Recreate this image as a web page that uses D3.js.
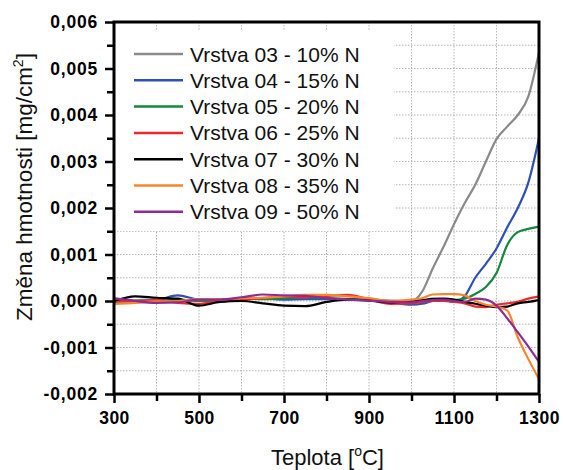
<!DOCTYPE html>
<html>
<head>
<meta charset="utf-8">
<script src="https://cdn.jsdelivr.net/npm/d3@7"></script>
<style>
  body { margin: 0; background: #fff; }
  text { font-family: "Liberation Sans", Arial, sans-serif; }
</style>
</head>
<body>
<svg width="563" height="470"></svg>
<script>
// temperatures [°C]
const temps = [300, 350, 400, 450, 500, 550, 600, 650, 700, 750, 800, 850, 900, 950, 1000,
  1025, 1050, 1075, 1100, 1125, 1150, 1175, 1200, 1225, 1250, 1275, 1300];

// mass change [mg/cm2]
const v03 = [0, 0.00002, 0.00003, 0.00002, 0.00001, 0.00003, 0.00005, 0.00006, 0.00005, 0.00006, 0.00005, 0.00004, 0.00003, 0.00001, 0,
  0.0002, 0.0007, 0.00116, 0.00165, 0.0021, 0.0025, 0.003, 0.00348, 0.00375, 0.004, 0.0044, 0.00535];
const v04 = [-0.00002, 0, 0.00002, 0.00012, 0.00003, 0.00002, 0.00004, 0.00005, 0.00003, 0.00004, 0.00004, 0.00004, 0.00003, -0.00002, -0.00008,
  -0.00006, 0, 0.00002, -0.00002, 0.0001, 0.0005, 0.0008, 0.00113, 0.00158, 0.002, 0.00255, 0.0035];
const v05 = [0, -0.00002, -0.00003, 0.00003, 0, -0.00002, 0.00005, 0.00004, 0.00006, 0.00008, 0.00006, 0.00004, 0.00002, -0.00001, -0.00002,
  0, 0.00005, 0.00004, 0.00002, 0.00005, 0.00015, 0.0003, 0.0006, 0.0012, 0.00148, 0.00155, 0.0016];
const v06 = [0, -0.00001, 0.00002, -0.00004, -0.00006, 0, 0.00003, 0.00006, 0.0001, 0.00008, 0.00011, 0.00013, 0.00004, -0.00006, -0.00005,
  -0.00002, 0, 0, -0.00002, -0.00005, -0.00012, -0.00013, -0.00008, -0.00005, -0.00002, 0.00005, 0.0001];
const v07 = [0, 0.0001, 0.00007, 0.00005, -0.0001, -0.00002, 0, -0.00005, -0.0001, -0.00011, -0.00002, 0.00003, 0.00001, -0.00003, 0,
  0.00002, 0.00004, 0.00005, 0.00003, -0.00002, -0.00006, -0.0001, -0.00013, -0.00012, -0.00005, -0.00002, 0.00002];
const v08 = [-0.00006, -0.00004, -0.00001, 0, 0.00004, 0.00004, 0.00006, 0.00007, 0.0001, 0.00013, 0.00013, 0.0001, 0.00006, 0, 0.00003,
  0.00006, 0.00014, 0.00015, 0.00015, 0.00012, 0, -0.00008, -0.00012, -0.0002, -0.00078, -0.00125, -0.00168];
const v09 = [0.00006, 0, -0.00004, -0.00003, 0.00003, 0.00003, 0.00008, 0.00014, 0.00012, 0.00011, 0.00006, 0.00003, 0.00001, -0.00002, -0.00003,
  0, 0.00002, 0.00003, 0, -0.00002, 0.00005, 0.00003, -0.0001, -0.00037, -0.00067, -0.00098, -0.00131];

const names = ['Vrstva 03 - 10% N', 'Vrstva 04 - 15% N', 'Vrstva 05 - 20% N', 'Vrstva 06 - 25% N',
  'Vrstva 07 - 30% N', 'Vrstva 08 - 35% N', 'Vrstva 09 - 50% N'];
const values = [v03, v04, v05, v06, v07, v08, v09];
const colors = ['#8a8a8a', '#2c50b4', '#16883c', '#f0282d', '#000000', '#f7862b', '#8e2c96'];

const xTicks = [300, 500, 700, 900, 1100, 1300];
const yTicks = [-0.002, -0.001, 0, 0.001, 0.002, 0.003, 0.004, 0.005, 0.006];

const svg = d3.select('svg');
const MARGIN = { TOP: 22, RIGHT: 24, BOTTOM: 76, LEFT: 114 };
const WIDTH = +svg.attr('width') - MARGIN.LEFT - MARGIN.RIGHT;
const HEIGHT = +svg.attr('height') - MARGIN.TOP - MARGIN.BOTTOM;

const g = svg.append('g').attr('transform', `translate(${MARGIN.LEFT}, ${MARGIN.TOP})`);

const x = d3.scaleLinear().domain([300, 1300]).range([0, WIDTH]);
const y = d3.scaleLinear().domain([-0.002, 0.006]).range([HEIGHT, 0]);

const fmt = d3.formatLocale({ decimal: ',', thousands: ' ', grouping: [3], currency: ['', ''], minus: '-' }).format('.3f');

// grid
const grid = g.append('g').attr('stroke', '#b4b4b4').attr('stroke-width', 1).attr('stroke-dasharray', '1.5,1.5');
grid.selectAll('line.v').data(d3.range(400, 1300, 100)).join('line')
  .attr('x1', d => x(d)).attr('x2', d => x(d)).attr('y1', 0).attr('y2', HEIGHT);
grid.selectAll('line.h').data(d3.range(-0.0015, 0.006, 0.0005)).join('line')
  .attr('x1', 0).attr('x2', WIDTH).attr('y1', d => y(d)).attr('y2', d => y(d));

// legend background covers grid
g.append('rect').attr('x', 1).attr('y', 8).attr('width', 279).attr('height', 201).attr('fill', '#fff');

// series
const line = d3.line().x((d, i) => x(temps[i])).y(d => y(d)).curve(d3.curveMonotoneX);
values.forEach((vals, k) => {
  g.append('path').attr('fill', 'none').attr('stroke', colors[k]).attr('stroke-width', 2.2)
    .attr('d', line(vals));
});

// frame
g.append('rect').attr('width', WIDTH).attr('height', HEIGHT)
  .attr('fill', 'none').attr('stroke', '#000').attr('stroke-width', 3);

// axes
const xMinor = g.append('g').attr('transform', `translate(0, ${HEIGHT})`)
  .call(d3.axisBottom(x).tickValues(d3.range(400, 1300, 200)).tickSize(7).tickFormat(''));
const xAxis = g.append('g').attr('transform', `translate(0, ${HEIGHT})`)
  .call(d3.axisBottom(x).tickValues(xTicks).tickSize(9).tickPadding(9).tickFormat(d3.format('d')));
const yMinor = g.append('g')
  .call(d3.axisLeft(y).tickValues(d3.range(-0.0015, 0.006, 0.001)).tickSize(7).tickFormat(''));
const yAxis = g.append('g')
  .call(d3.axisLeft(y).tickValues(yTicks).tickSize(9).tickPadding(7).tickFormat(fmt));
[xMinor, xAxis, yMinor, yAxis].forEach(a => {
  a.select('.domain').remove();
  a.selectAll('line').attr('stroke', '#000').attr('stroke-width', 2.5);
});
xAxis.selectAll('text').attr('font-size', 17.5).attr('font-weight', 'bold').attr('fill', '#000')
  .attr('font-family', '"Liberation Sans", Arial, sans-serif').attr('letter-spacing', 0.5);
yAxis.selectAll('text').attr('font-size', 17.5).attr('font-weight', 'bold').attr('fill', '#000')
  .attr('font-family', '"Liberation Sans", Arial, sans-serif').attr('letter-spacing', 0.8);

// legend
const leg = g.append('g').attr('transform', 'translate(20, 32)');
names.forEach((n, k) => {
  const row = leg.append('g').attr('transform', `translate(0, ${k * 26.3})`);
  row.append('line').attr('x1', 0).attr('x2', 49).attr('stroke', colors[k]).attr('stroke-width', 2.5);
  row.append('text').attr('x', 56).attr('y', 7.5).attr('font-size', 21).attr('fill', '#111').text(n);
});

// axis titles
const xt = svg.append('text').attr('x', MARGIN.LEFT + WIDTH / 2 + 1).attr('y', 465)
  .attr('text-anchor', 'middle').attr('font-size', 22).attr('fill', '#111');
xt.append('tspan').text('Teplota [');
xt.append('tspan').attr('font-size', 14).attr('dy', -9).text('o');
xt.append('tspan').attr('dy', 9).text('C]');

const yt = svg.append('text').attr('transform', 'translate(32, 187) rotate(-90)')
  .attr('text-anchor', 'middle').attr('font-size', 22.5).attr('fill', '#111');
yt.append('tspan').text('Změna hmotnosti [mg/cm');
yt.append('tspan').attr('font-size', 14).attr('dy', -9).text('2');
yt.append('tspan').attr('dy', 9).text(']');
</script>
</body>
</html>
